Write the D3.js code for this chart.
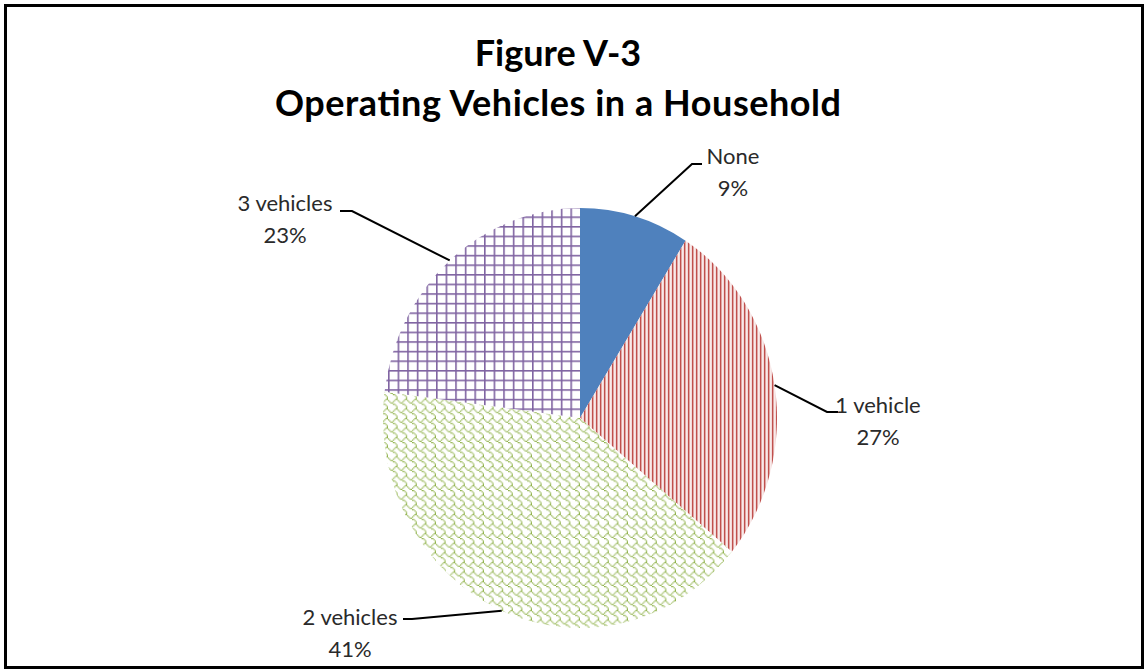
<!DOCTYPE html>
<html>
<head>
<meta charset="utf-8">
<script src="https://cdn.jsdelivr.net/npm/d3@7"></script>
<style>
  body { margin: 0; background: #fff; }
  svg { display: block; }
</style>
</head>
<body>
<div id="chart"></div>
<script>
// data
var categories = ["None", "1 vehicle", "2 vehicles", "3 vehicles"];
var values = [9, 27, 41, 23];
var pctLabels = ["9%", "27%", "41%", "23%"];
var titleLines = ["Figure V-3", "Operating Vehicles in a Household"];

var width = 1147, height = 670;
var cx = 580, cy = 418, rx = 197, ry = 210;

// label layout: elbow + end of leader line, text centre
var labelLayout = [
    {elbow: [692, 164], end: [702, 164], tx: 733, ty: 164},
    {elbow: [827, 412], end: [838, 412], tx: 878, ty: 413},
    {elbow: [412, 619], end: [403, 619], tx: 350, ty: 625},
    {elbow: [352, 211], end: [340, 211], tx: 285, ty: 211}
];

var svg = d3.select("#chart").append("svg")
    .attr("width", width)
    .attr("height", height);

var defs = svg.append("defs");
var flat = "scale(1," + (rx / ry) + ")";

// red vertical stripes
var pRed = defs.append("pattern")
    .attr("id", "pRed")
    .attr("patternUnits", "userSpaceOnUse")
    .attr("patternTransform", flat)
    .attr("width", 4).attr("height", 4);
pRed.append("rect").attr("width", 4).attr("height", 4).attr("fill", "#fff");
pRed.append("rect").attr("x", 0).attr("width", 1.2).attr("height", 4).attr("fill", "#c0504d");
pRed.append("rect").attr("x", 1.2).attr("width", 1).attr("height", 4).attr("fill", "#dc9a98");
pRed.append("rect").attr("x", 3.2).attr("width", 0.8).attr("height", 4).attr("fill", "#f0d0cf");

// green shingle
var shingle = [
    "00000011",
    "10000100",
    "01001000",
    "00110000",
    "00001100",
    "00000010",
    "00000001",
    "00000001"
];
var cell = 1.2;
var pGreen = defs.append("pattern")
    .attr("id", "pGreen")
    .attr("patternUnits", "userSpaceOnUse")
    .attr("patternTransform", flat)
    .attr("width", 8 * cell).attr("height", 8 * cell);
pGreen.append("rect").attr("width", 8 * cell).attr("height", 8 * cell).attr("fill", "#fff");
shingle.forEach(function(row, j) {
    row.split("").forEach(function(b, i) {
        if (b === "1") {
            pGreen.append("rect")
                .attr("x", i * cell).attr("y", j * cell)
                .attr("width", cell).attr("height", cell)
                .attr("fill", "#8fb24a");
        }
    });
});

// purple grid
var g = 9.6;
var pPurple = defs.append("pattern")
    .attr("id", "pPurple")
    .attr("patternUnits", "userSpaceOnUse")
    .attr("patternTransform", flat)
    .attr("width", g).attr("height", g);
pPurple.append("rect").attr("width", g).attr("height", g).attr("fill", "#fff");
pPurple.append("rect").attr("x", 0).attr("width", 1.6).attr("height", g).attr("fill", "#8064a2");
pPurple.append("rect").attr("y", 0).attr("width", g).attr("height", 1.6).attr("fill", "#8064a2");

var fills = ["#4f81bd", "url(#pRed)", "url(#pGreen)", "url(#pPurple)"];

// outer frame
svg.append("rect")
    .attr("x", 5.5).attr("y", 5.5)
    .attr("width", 1137).attr("height", 662)
    .attr("fill", "#fff")
    .attr("stroke", "#000")
    .attr("stroke-width", 3);

// title
svg.append("g").selectAll("text")
    .data(titleLines)
    .enter().append("text")
    .attr("x", 558)
    .attr("y", function(d, i) { return 66 + i * 50; })
    .attr("text-anchor", "middle")
    .attr("font-family", "Lato, 'Open Sans', sans-serif")
    .attr("font-weight", "bold")
    .attr("font-size", 36)
    .attr("fill", "#000")
    .attr("textLength", function(d, i) { return i === 1 ? 566 : null; })
    .attr("lengthAdjust", "spacing")
    .text(function(d) { return d; });

// pie
var pie = d3.pie().sort(null).value(function(d) { return d; });
var arcs = pie(values);
var arc = d3.arc().innerRadius(0).outerRadius(rx);

var pg = svg.append("g")
    .attr("transform", "translate(" + cx + "," + cy + ") scale(1," + (ry / rx) + ")");

pg.selectAll("path")
    .data(arcs)
    .enter().append("path")
    .attr("d", arc)
    .attr("fill", function(d, i) { return fills[i]; });

// leader lines from slice mid-angle on the rim
function rimPoint(d) {
    var a = (d.startAngle + d.endAngle) / 2;
    return [cx + rx * Math.sin(a), cy - ry * Math.cos(a)];
}

svg.append("g").selectAll("polyline")
    .data(arcs)
    .enter().append("polyline")
    .attr("points", function(d, i) {
        var p = rimPoint(d), L = labelLayout[i];
        return [p, L.elbow, L.end].map(function(q) { return q.join(","); }).join(" ");
    })
    .attr("fill", "none")
    .attr("stroke", "#000")
    .attr("stroke-width", 2);

// labels
var lab = svg.append("g").selectAll("text")
    .data(arcs)
    .enter().append("text")
    .attr("text-anchor", "middle")
    .attr("font-family", "Lato, 'Open Sans', sans-serif")
    .attr("font-size", 22)
    .attr("fill", "#2a2a2a");

lab.append("tspan")
    .attr("x", function(d, i) { return labelLayout[i].tx; })
    .attr("y", function(d, i) { return labelLayout[i].ty; })
    .text(function(d, i) { return categories[i]; });

lab.append("tspan")
    .attr("x", function(d, i) { return labelLayout[i].tx; })
    .attr("y", function(d, i) { return labelLayout[i].ty + 32; })
    .text(function(d, i) { return pctLabels[i]; });
</script>
</body>
</html>
